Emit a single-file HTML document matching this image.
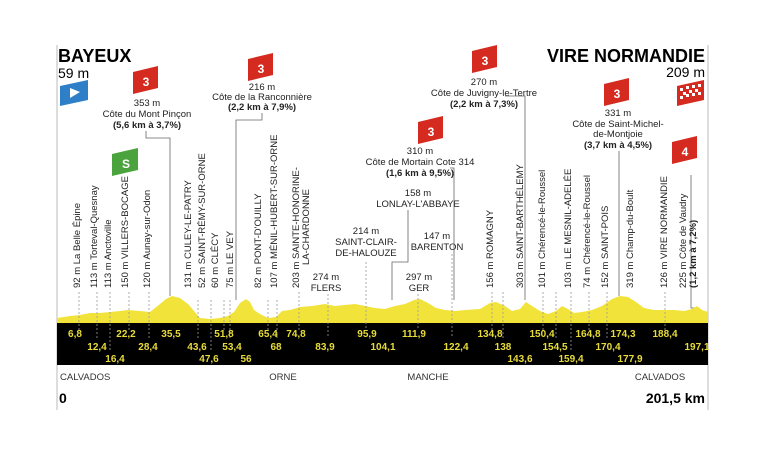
<!DOCTYPE html>
<html><head><meta charset="utf-8"><style>
body{margin:0;background:#fff;width:768px;height:474px;overflow:hidden}
svg{display:block;font-family:"Liberation Sans",sans-serif}
.v{font-size:9.5px;fill:#222}
.l{font-size:9.5px;fill:#222;text-anchor:middle}
.b{font-weight:bold}
.n{font-size:10px;font-weight:bold;fill:#e8dc3a;text-anchor:middle}
.d{stroke:#999;stroke-width:0.8;stroke-dasharray:2,2}
.k{stroke:#666;stroke-width:0.8;fill:none}
</style></head><body>
<svg width="768" height="474" viewBox="0 0 768 474">
<line x1="57" y1="45" x2="57" y2="410" stroke="#bbb" stroke-width="1"/>
<line x1="708" y1="45" x2="708" y2="410" stroke="#bbb" stroke-width="1"/>
<text x="58" y="62" font-size="18" font-weight="bold">BAYEUX</text>
<text x="58" y="78" font-size="14">59 m</text>
<text x="705" y="62" font-size="18" font-weight="bold" text-anchor="end">VIRE NORMANDIE</text>
<text x="705" y="77" font-size="14" text-anchor="end">209 m</text>
<!-- flags -->
<polygon points="60,86 88,80 88,100 60,106" fill="#2f7fc8"/><polygon points="70,88 80,92 70,98" fill="#fff"/>
<polygon points="133,72 158,66 158,88 133,94" fill="#d42a20"/><text x="146" y="86" font-size="12" fill="#fff" font-weight="bold" text-anchor="middle">3</text>
<polygon points="112,154 138,148 138,170 112,176" fill="#4aa33c"/><text x="126" y="168" font-size="12" fill="#fff" font-weight="bold" text-anchor="middle">S</text>
<polygon points="248,59 273,53 273,75 248,81" fill="#d42a20"/><text x="261" y="73" font-size="12" fill="#fff" font-weight="bold" text-anchor="middle">3</text>
<polygon points="418,122 443,116 443,138 418,144" fill="#d42a20"/><text x="431" y="136" font-size="12" fill="#fff" font-weight="bold" text-anchor="middle">3</text>
<polygon points="472,51 497,45 497,67 472,73" fill="#d42a20"/><text x="485" y="65" font-size="12" fill="#fff" font-weight="bold" text-anchor="middle">3</text>
<polygon points="604,84 629,78 629,100 604,106" fill="#d42a20"/><text x="617" y="98" font-size="12" fill="#fff" font-weight="bold" text-anchor="middle">3</text>
<polygon points="672,142 697,136 697,158 672,164" fill="#d42a20"/><text x="685" y="156" font-size="12" fill="#fff" font-weight="bold" text-anchor="middle">4</text>
<polygon points="677,86 704,80 704,100 677,106" fill="#d42a20"/>
<g fill="#fff"><rect x="680" y="88" width="3" height="3"/><rect x="686" y="86" width="3" height="3"/><rect x="692" y="85" width="3" height="3"/><rect x="698" y="84" width="3" height="3"/><rect x="683" y="92" width="3" height="3"/><rect x="689" y="90" width="3" height="3"/><rect x="695" y="89" width="3" height="3"/><rect x="680" y="96" width="3" height="3"/><rect x="686" y="94" width="3" height="3"/><rect x="692" y="93" width="3" height="3"/><rect x="698" y="92" width="3" height="3"/></g>
<!-- climb labels -->
<text class="l" x="147" y="106">353 m</text><text class="l" x="147" y="117">Côte du Mont Pinçon</text><text class="l b" x="147" y="128">(5,6 km à 3,7%)</text>
<text class="l" x="262" y="90">216 m</text><text class="l" x="262" y="100">Côte de la Ranconnière</text><text class="l b" x="262" y="110">(2,2 km à 7,9%)</text>
<text class="l" x="420" y="154">310 m</text><text class="l" x="420" y="165">Côte de Mortain Cote 314</text><text class="l b" x="420" y="176">(1,6 km à 9,5%)</text>
<text class="l" x="484" y="85">270 m</text><text class="l" x="484" y="96">Côte de Juvigny-le-Tertre</text><text class="l b" x="484" y="107">(2,2 km à 7,3%)</text>
<text class="l" x="618" y="116">331 m</text><text class="l" x="618" y="127">Côte de Saint-Michel-</text><text class="l" x="618" y="137">de-Montjoie</text><text class="l b" x="618" y="148">(3,7 km à 4,5%)</text>
<text class="l" x="418" y="196">158 m</text><text class="l" x="418" y="207">LONLAY-L'ABBAYE</text>
<text class="l" x="366" y="234">214 m</text><text class="l" x="366" y="245">SAINT-CLAIR-</text><text class="l" x="366" y="256">DE-HALOUZE</text>
<text class="l" x="437" y="239">147 m</text><text class="l" x="437" y="250">BARENTON</text>
<text class="l" x="326" y="280">274 m</text><text class="l" x="326" y="291">FLERS</text>
<text class="l" x="419" y="280">297 m</text><text class="l" x="419" y="291">GER</text>
<!-- leaders -->
<polyline class="k" points="146,131 146,138 170,138 170,296"/>
<polyline class="k" points="262,113 262,120 236,120 236,300"/>
<polyline class="k" points="450,168 454,168 454,300"/>
<polyline class="k" points="505,96 525,96 525,300"/>
<polyline class="k" points="619,151 619,296"/>
<polyline class="k" points="408,210 408,262 392,262 392,300"/>
<polyline class="k" points="691,175 691,308 695,308 695,316"/>
<!-- vertical labels -->
<g class="v">
<text transform="translate(80,288) rotate(-90)">92 m La Belle Épine</text>
<text transform="translate(97,288) rotate(-90)">113 m Torteval-Quesnay</text>
<text transform="translate(111,288) rotate(-90)">113 m Anctoville</text>
<text transform="translate(128,288) rotate(-90)">150 m VILLERS-BOCAGE</text>
<text transform="translate(150,288) rotate(-90)">120 m Aunay-sur-Odon</text>
<text transform="translate(191,288) rotate(-90)">131 m CULEY-LE-PATRY</text>
<text transform="translate(205,288) rotate(-90)">52 m SAINT-RÉMY-SUR-ORNE</text>
<text transform="translate(218,288) rotate(-90)">60 m CLÉCY</text>
<text transform="translate(233,288) rotate(-90)">75 m LE VEY</text>
<text transform="translate(261,288) rotate(-90)">82 m PONT-D'OUILLY</text>
<text transform="translate(277,288) rotate(-90)">107 m MÉNIL-HUBERT-SUR-ORNE</text>
<text transform="translate(299,288) rotate(-90)">203 m SAINTE-HONORINE-</text>
<text transform="translate(309,265) rotate(-90)">LA-CHARDONNE</text>
<text transform="translate(493,288) rotate(-90)">156 m ROMAGNY</text>
<text transform="translate(523,288) rotate(-90)">303 m SAINT-BARTHÉLEMY</text>
<text transform="translate(545,288) rotate(-90)">101 m Chérencé-le-Roussel</text>
<text transform="translate(571,288) rotate(-90)">103 m LE MESNIL-ADELÉE</text>
<text transform="translate(590,288) rotate(-90)">74 m Chérencé-le-Roussel</text>
<text transform="translate(608,288) rotate(-90)">152 m SAINT-POIS</text>
<text transform="translate(633,288) rotate(-90)">319 m Champ-du-Boult</text>
<text transform="translate(667,288) rotate(-90)">126 m VIRE NORMANDIE</text>
<text transform="translate(686,288) rotate(-90)">225 m Côte de Vaudry</text>
<text transform="translate(696,288) rotate(-90)" font-weight="bold">(1,2 km à 7,2%)</text>
</g>
<!-- profile -->
<polygon fill="#f2e33a" points="57,323 57,318 70,316 80,315 90,313 100,313 110,312 120,311 128,310 140,311 150,312 160,304 166,299 172,296 180,298 188,304 194,311 200,318 210,319 220,318 228,316 234,312 240,303 246,299 250,302 254,310 260,314 268,318 276,317 282,311 290,310 300,307 312,306 325,304 335,306 345,305 355,304 365,306 375,308 385,309 395,306 405,304 414,300 420,299 428,303 436,308 445,310 455,311 465,310 480,309 490,303 496,302 505,306 512,311 520,309 526,302 532,306 540,311 548,314 556,311 562,306 568,309 574,313 582,312 592,310 602,306 612,299 620,296 628,297 636,302 644,308 654,310 664,310 674,310 684,311 692,309 697,306 702,310 708,312 708,323"/>
<rect x="57" y="323" width="651" height="42" fill="#000"/>
<!-- dashed lines -->
<g class="d">
<line x1="79" y1="292" x2="79" y2="330"/><line x1="97" y1="292" x2="97" y2="338"/><line x1="110" y1="292" x2="110" y2="352"/><line x1="129" y1="292" x2="129" y2="330"/><line x1="149" y1="292" x2="149" y2="338"/><line x1="198" y1="300" x2="198" y2="338"/><line x1="211" y1="300" x2="211" y2="352"/><line x1="224" y1="300" x2="224" y2="330"/><line x1="230" y1="300" x2="230" y2="338"/><line x1="268" y1="300" x2="268" y2="330"/><line x1="277" y1="300" x2="277" y2="338"/><line x1="299" y1="292" x2="299" y2="330"/><line x1="328" y1="294" x2="328" y2="338"/><line x1="366" y1="262" x2="366" y2="330"/><line x1="418" y1="294" x2="418" y2="330"/><line x1="452" y1="254" x2="452" y2="338"/><line x1="492" y1="292" x2="492" y2="330"/><line x1="503" y1="292" x2="503" y2="338"/><line x1="543" y1="292" x2="543" y2="330"/><line x1="556" y1="292" x2="556" y2="338"/><line x1="571" y1="292" x2="571" y2="352"/><line x1="589" y1="292" x2="589" y2="330"/><line x1="607" y1="292" x2="607" y2="338"/><line x1="665" y1="292" x2="665" y2="330"/>
</g>
<!-- km numbers -->
<g class="n">
<text x="75" y="337">6,8</text><text x="126" y="337">22,2</text><text x="171" y="337">35,5</text><text x="224" y="337">51,8</text><text x="268" y="337">65,4</text><text x="296" y="337">74,8</text><text x="367" y="337">95,9</text><text x="414" y="337">111,9</text><text x="490" y="337">134,8</text><text x="542" y="337">150,4</text><text x="588" y="337">164,8</text><text x="623" y="337">174,3</text><text x="665" y="337">188,4</text>
<text x="97" y="350">12,4</text><text x="148" y="350">28,4</text><text x="197" y="350">43,6</text><text x="232" y="350">53,4</text><text x="276" y="350">68</text><text x="325" y="350">83,9</text><text x="383" y="350">104,1</text><text x="456" y="350">122,4</text><text x="503" y="350">138</text><text x="555" y="350">154,5</text><text x="608" y="350">170,4</text><text x="697" y="350">197,1</text>
<text x="115" y="362">16,4</text><text x="209" y="362">47,6</text><text x="246" y="362">56</text><text x="520" y="362">143,6</text><text x="571" y="362">159,4</text><text x="630" y="362">177,9</text>
</g>
<g font-size="9.5" fill="#333">
<text x="60" y="380">CALVADOS</text><text x="283" y="380" text-anchor="middle">ORNE</text><text x="428" y="380" text-anchor="middle">MANCHE</text><text x="660" y="380" text-anchor="middle">CALVADOS</text>
</g>
<text x="59" y="403" font-size="14" font-weight="bold">0</text>
<text x="705" y="403" font-size="14" font-weight="bold" text-anchor="end">201,5 km</text>
</svg>
</body></html>
